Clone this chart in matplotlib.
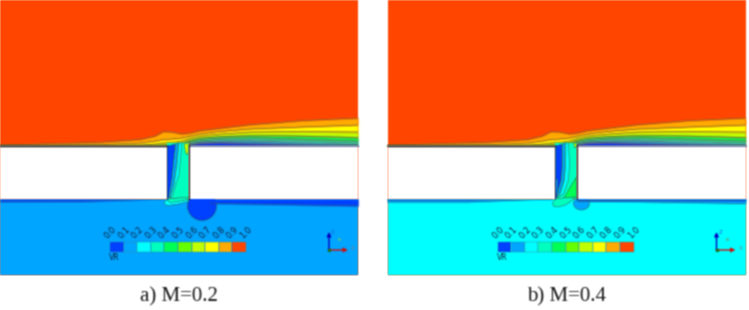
import matplotlib
matplotlib.use('Agg')
import matplotlib.pyplot as plt
import numpy as np
from matplotlib.patches import Ellipse, Rectangle

# contour level colours, VR = 0.0 ... 1.0
levels = ['0.0', '0.1', '0.2', '0.3', '0.4', '0.5', '0.6', '0.7', '0.8', '0.9', '1.0']
colors = ['#0040FF', '#00A5FF', '#00FFFF', '#00FFBF', '#00FF55', '#66FF00',
          '#BFFF00', '#FFFF00', '#FFAA00', '#FF4500']
ORANGE, YELLOW, LIME, GREEN, TEAL, CYAN, LBLUE, BLUE = colors[8], colors[7], colors[6], colors[4], colors[3], colors[2], colors[1], colors[0]

# boundary layer contours (x, y in image pixels of one panel)
xs = [0, 100, 140, 155, 163, 172, 182, 190, 200, 220, 250, 300, 358]
c_orange = [145, 142.3, 139.5, 136, 131.7, 132, 134, 133, 130.7, 128.3, 124.7, 120.7, 118]
c_yellow = [146, 144.5, 143, 141, 139.5, 139, 138, 136, 134, 131.5, 129, 127, 125]
c_lime = [146, 145.5, 145, 144, 143, 142.5, 141, 138, 136, 134, 132, 131.5, 132]
c_green = [146, 146, 146, 145.5, 145, 144.5, 143, 140, 138, 136.5, 135.5, 136, 137.5]
c_teal = [146, 146, 146, 146, 146, 145.5, 144, 141.5, 139.5, 138, 137.5, 139, 141]

xr = [189, 200, 220, 250, 300, 358]
c_teal_r = [142, 139.5, 138, 137.5, 139, 141]
c_cyan = [143, 141, 139.5, 139.5, 141, 143]
c_lblue = [144, 142, 141, 141, 143, 144.5]
c_blue = [145, 143, 142.5, 143.5, 145, 145.8]

gap_left, gap_right = 167, 189
plate_top, plate_bot = 146, 199

# panel a) M=0.2
a_gap_blue = [(167, 146), (176, 144), (174, 160), (172, 180), (169, 198), (167, 199)]
a_gap_lblue = [(176, 144), (179, 143), (177, 165), (174, 185), (170, 198), (169, 198), (172, 180), (174, 160)]
a_gap_cyan = [(179, 143), (182, 143), (179, 175), (172, 197), (170, 198), (174, 185), (177, 165)]
a_gap_finger = [(184, 144), (189, 143), (188.5, 152), (187, 155), (185.5, 152)]
a_blob_cyan = [(164, 202), (168, 199), (189, 199), (188, 201.5), (178, 204), (168, 205.5), (165, 204.5)]
a_blob_teal = [(167, 199), (189, 197), (188, 199.5), (178, 201.5), (170, 202.5)]
a_wedge_x = [0, 80, 165]
a_wedge_y = [201.7, 201.5, 199]
a_band_x = [210, 217, 280, 358]
a_band_y = [203, 203.5, 204.5, 206]
a_bubble = (202, 206, 29, 29)

# panel b) M=0.4
b_gap_blue = [(168, 146), (175, 144), (175, 165), (174, 180), (171, 190), (169, 198), (167.5, 199)]
b_gap_lblue = [(175, 144), (178, 143), (178, 165), (177, 180), (173, 193), (169, 198), (171, 190), (174, 180), (175, 165)]
b_gap_cyan = [(178, 143), (181, 143), (182, 165), (181, 180), (176, 194), (169, 198), (173, 193), (177, 180), (178, 165)]
b_gap_green = [(189, 177), (189, 197), (176, 199), (181, 190)]
b_gap_inset = [(168, 178), (170, 180), (170, 190), (168, 196)]
b_gap_finger = [(186, 144), (189, 143), (189, 146), (187.5, 148)]
b_blob_teal = [(165, 203), (168, 198.5), (187.5, 197), (185, 200), (178, 205), (170, 207), (166, 206)]
b_wedge_x = [0, 80, 165]
b_wedge_y = [200, 200, 198.5]
b_wedge2_y = [202, 202, 199]
b_band_x = [190, 250, 358]
b_band_y = [200.5, 200.5, 200.8]
b_band2_y = [201.5, 201.8, 203.5]
b_bubble = (194, 203.5, 16, 13)

panel_left = [0, 387.5]
panel_w, panel_h = 358, 275
bar_x, bar_y, bar_w, bar_h = 110, 242, 13.6, 10
captions = ['a) M=0.2', 'b) M=0.4']
floor_colors = [LBLUE, CYAN]

LINE = '#3a5a4a'


# the reference is a soft, upscaled screenshot
def soften(img, dpi):
    pad = 3
    img = np.pad(img, ((pad, pad), (pad, pad), (0, 0)))
    a = img[..., 3:]
    pm = np.concatenate([img[..., :3] * a, a], axis=2)
    for axis in (0, 1):
        pm = (np.roll(pm, 1, axis) + 2 * pm + np.roll(pm, -1, axis)) / 4
    a = pm[..., 3:]
    rgb = np.where(a > 0, pm[..., :3] / np.maximum(a, 1e-6), 0)
    return np.clip(np.concatenate([rgb, a], axis=2), 0, 1), -pad, -pad


def poly(ax, x0, pts, color, z):
    ax.fill([p[0] + x0 for p in pts], [p[1] for p in pts], fc=color, ec=LINE, lw=0.35, zorder=z)


def band(ax, x0, x, y1, y2, color, z=2):
    ax.fill_between([v + x0 for v in x], y1, y2, color=color, lw=0, zorder=z)
    ax.plot([v + x0 for v in x], y2, color=LINE, lw=0.35, zorder=z + 0.1)


def draw_panel(ax, idx):
    x0 = panel_left[idx]
    ax.add_patch(Rectangle((x0, 0), panel_w, panel_h, fc=colors[9], lw=0, zorder=1))
    ax.add_patch(Rectangle((x0, plate_bot), panel_w, panel_h - plate_bot, fc=floor_colors[idx], lw=0, zorder=1))

    # boundary layer above the plate
    ax.plot([v + x0 for v in xs], c_orange, color=LINE, lw=0.35, zorder=2.1)
    band(ax, x0, xs, c_orange, c_yellow, ORANGE)
    band(ax, x0, xs, c_yellow, c_lime, YELLOW)
    band(ax, x0, xs, c_lime, c_green, LIME)
    band(ax, x0, xs, c_green, c_teal, GREEN)
    band(ax, x0, xr, c_teal_r, c_cyan, TEAL)
    band(ax, x0, xr, c_cyan, c_lblue, CYAN)
    band(ax, x0, xr, c_lblue, c_blue, LBLUE)
    band(ax, x0, xr, c_blue, [plate_top] * len(xr), BLUE)

    # slot between the plates
    ax.add_patch(Rectangle((x0 + gap_left, 143), gap_right - gap_left, plate_bot - 143, fc=TEAL, lw=0, zorder=2.5))
    if idx == 0:
        poly(ax, x0, a_gap_blue, BLUE, 3)
        poly(ax, x0, a_gap_lblue, LBLUE, 3)
        poly(ax, x0, a_gap_cyan, CYAN, 3)
        poly(ax, x0, a_gap_finger, LIME, 3)
        ax.add_patch(Ellipse((x0 + a_bubble[0], a_bubble[1]), a_bubble[2], a_bubble[3], fc=BLUE, ec=LINE, lw=0.35, zorder=3))
        poly(ax, x0, a_blob_cyan, CYAN, 3)
        poly(ax, x0, a_blob_teal, TEAL, 3.1)
        band(ax, x0, a_wedge_x, [plate_bot] * 3, a_wedge_y, BLUE)
        band(ax, x0, a_band_x, [plate_bot] * 4, a_band_y, BLUE, 3.2)
    else:
        poly(ax, x0, b_gap_blue, BLUE, 3)
        poly(ax, x0, b_gap_lblue, LBLUE, 3)
        poly(ax, x0, b_gap_cyan, CYAN, 3)
        poly(ax, x0, b_gap_green, GREEN, 3)
        poly(ax, x0, b_gap_inset, LBLUE, 3.1)
        poly(ax, x0, b_gap_finger, LIME, 3)
        ax.add_patch(Ellipse((x0 + b_bubble[0], b_bubble[1]), b_bubble[2], b_bubble[3], fc=LBLUE, ec=LINE, lw=0.35, zorder=3))
        poly(ax, x0, b_blob_teal, TEAL, 3)
        band(ax, x0, b_wedge_x, [plate_bot] * 3, b_wedge2_y, LBLUE)
        band(ax, x0, b_wedge_x, [plate_bot] * 3, b_wedge_y, BLUE, 2.5)
        band(ax, x0, b_band_x, [plate_bot] * 3, b_band2_y, LBLUE, 3.2)
        band(ax, x0, b_band_x, [plate_bot] * 3, b_band_y, BLUE, 3.3)

    # solid plates
    ax.add_patch(Rectangle((x0, plate_top), gap_left, plate_bot - plate_top, fc='white', lw=0, zorder=4))
    ax.add_patch(Rectangle((x0 + gap_right, plate_top), panel_w - gap_right, plate_bot - plate_top, fc='white', lw=0, zorder=4))
    ax.plot([x0, x0 + gap_left], [plate_top, plate_top], color='#101010', lw=1.0, zorder=5)
    ax.plot([x0 + gap_right, x0 + panel_w], [plate_top, plate_top], color='#4060a0', lw=0.6, zorder=5)
    ax.plot([x0 + gap_right] * 2, [plate_top - 1, plate_bot], color='#101010', lw=0.8, zorder=5)
    ax.plot([x0 + gap_left] * 2, [plate_top, plate_bot], color='#203080', lw=0.5, zorder=5)

    # legend bar
    for i, c in enumerate(colors):
        ax.add_patch(Rectangle((x0 + bar_x + i * bar_w, bar_y), bar_w, bar_h, fc=c, ec='#3a8aa0', lw=0.3, zorder=6))
    for i, lab in enumerate(levels):
        ax.text(x0 + bar_x + i * bar_w - 1, bar_y - 2, lab, rotation=45, fontsize=6, ha='left', va='bottom',
                rotation_mode='anchor', color='#152040', zorder=6)
    ax.text(x0 + bar_x - 1, bar_y + 16, 'VR', fontsize=5.5, ha='left', va='center', color='#152040', zorder=6)

    # axis triad
    ox, oy = x0 + 329, 250
    ax.annotate('', xy=(ox, 232), xytext=(ox, oy), zorder=6,
                arrowprops=dict(arrowstyle='-|>', color='#0000c0', lw=1, mutation_scale=6, shrinkA=0, shrinkB=0))
    ax.annotate('', xy=(ox + 19, oy), xytext=(ox, oy), zorder=6,
                arrowprops=dict(arrowstyle='-|>', color='#d01010', lw=1, mutation_scale=6, shrinkA=0, shrinkB=0))
    ax.plot([ox], [oy], 'o', ms=1.5, color='#108020', zorder=7)
    ax.plot([ox + 10], [239], 'o', ms=1.2, color='#40c0a0', zorder=7)
    ax.text(ox + 2, 232, 'Z', fontsize=4, color='#2060e0', ha='left', va='center', zorder=7)
    ax.text(ox + 22, 248, 'X', fontsize=4, color='#80808f', ha='left', va='center', zorder=7)

    ax.text(x0 + panel_w / 2, 297, captions[idx], family='Liberation Serif', fontsize=15,
            ha='center', va='center', color='#151515')


fig = plt.figure(figsize=(7.49, 3.10), dpi=100)
ax = fig.add_axes([0, 0, 1, 1])
ax.set_xlim(0, 749)
ax.set_ylim(310, 0)
ax.axis('off')

draw_panel(ax, 0)
draw_panel(ax, 1)

for art in ax.patches + ax.lines + ax.collections + ax.texts:
    art.set_agg_filter(soften)

fig.savefig('out.png', dpi=100)
